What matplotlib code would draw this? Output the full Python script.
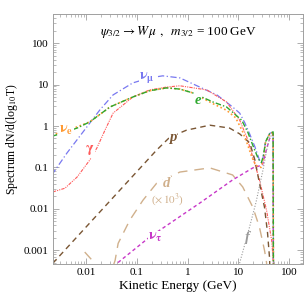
import numpy as np
import matplotlib.pyplot as plt

plt.rcParams['font.family'] = ['Liberation Serif', 'DejaVu Serif']
plt.rcParams['mathtext.fontset'] = 'stix'

# spectra, as log10(T/GeV) and log10(dN/dlogT)
nu_mu_lx = [-2.68, -2.38, -1.93, -1.73, -1.47, -1.08, -0.75, -0.49, -0.15, 0.24, 0.58, 0.89, 1.03,
            1.13, 1.23, 1.33, 1.42, 1.47, 1.50, 1.54, 1.62, 1.69, 1.70]
nu_mu_ly = [-1.18, -0.65, 0.07, 0.39, 0.75, 1.04, 1.16, 1.21, 1.16, 0.94, 0.75, 0.46, 0.31,
            0.08, -0.20, -0.50, -0.82, -0.90, -0.70, -0.38, -0.18, -0.14, -6]

nu_e_lx = [-2.68, -2.2, -1.93, -1.53, -1.08, -0.75, -0.41, -0.15, 0.10, 0.50, 0.77, 0.95, 1.09,
           1.19, 1.27, 1.35, 1.45, 1.50, 1.54, 1.62, 1.69, 1.70]
nu_e_ly = [-0.22, -0.03, 0.10, 0.46, 0.70, 0.85, 0.92, 0.89, 0.80, 0.54, 0.38, 0.20, -0.14,
           -0.46, -0.75, -0.95, -1.00, -0.80, -0.40, -0.20, -0.15, -6]

e_lx = [-2.68, -2.18, -1.93, -1.53, -1.08, -0.75, -0.41, -0.15, 0.10, 0.50, 0.77, 1.07, 1.19,
        1.30, 1.40, 1.46, 1.50, 1.54, 1.62, 1.69, 1.70]
e_ly = [-0.25, -0.05, 0.10, 0.46, 0.70, 0.85, 0.92, 0.89, 0.80, 0.58, 0.46, 0.14, -0.15,
        -0.50, -0.80, -0.88, -0.70, -0.38, -0.19, -0.14, -6]

gamma_lx = [-2.66, -2.42, -2.18, -1.93, -1.79, -1.63, -1.47, -1.08, -0.75, -0.41, -0.15, 0.38, 0.77,
            1.03, 1.17, 1.29, 1.42, 1.56, 1.66, 1.70, 1.71]
gamma_ly = [-1.59, -1.50, -1.23, -0.82, -0.53, -0.10, 0.31, 0.70, 0.87, 0.94, 0.97, 0.87, 0.58,
            0.14, -0.27, -0.75, -1.30, -2.03, -2.75, -3.33, -6]

p_lx = [-2.66, -0.61, -0.35, -0.02, 0.44, 0.83, 1.03, 1.23, 1.33, 1.42, 1.52, 1.58, 1.62, 1.64]
p_ly = [-3.31, -0.58, -0.27, -0.10, 0.02, -0.05, -0.19, -0.41, -0.82, -1.38, -1.96, -2.58, -3.19, -4]

d_lx = [-2.03, -1.83, -1.73, -1.53, -1.43, -1.37, -1.14, -0.88, -0.61, -0.15, 0.44, 0.89,
        1.09, 1.29, 1.42, 1.52, 1.56, 1.58]
d_ly = [-3.04, -3.31, -3.60, -3.60, -3.24, -2.83, -2.27, -1.79, -1.38, -1.11, -1.01, -1.18,
        -1.47, -1.96, -2.44, -3.00, -3.29, -4]

nu_tau_lx = [-1.50, -1.39, -0.75, 0.24, 0.89, 1.29, 1.48, 1.55, 1.62, 1.69, 1.70]
nu_tau_ly = [-3.55, -3.31, -2.68, -1.86, -1.30, -1.01, -0.94, -0.60, -0.30, -0.20, -6]

f_lx = [0.98, 1.03, 1.20, 1.35, 1.49, 1.56, 1.62, 1.69, 1.70]
f_ly = [-3.50, -3.30, -2.55, -1.85, -1.06, -0.60, -0.30, -0.15, -6]

curves = [
    (nu_mu_lx, nu_mu_ly, '#7878f0', (0, (5, 2, 1, 2)), 0.9),
    (gamma_lx, gamma_ly, '#ff5a5a', (0, (3, 1, 1, 1, 1, 1)), 0.8),
    (p_lx, p_ly, '#7a5634', (0, (4, 3)), 1.0),
    (d_lx, d_ly, '#d0b08c', (0, (7, 5)), 1.0),
    (nu_tau_lx, nu_tau_ly, '#c838c8', (0, (2.5, 2)), 1.0),
    (f_lx, f_ly, '#9a9a9a', (0, (1, 1.5)), 0.8),
    (nu_e_lx, nu_e_ly, '#ff9a33', (0, (1, 1.5)), 1.2),
    (e_lx, e_ly, '#2ea82e', (0, (4, 1.5, 1, 1.5)), 1.0),
]

fig = plt.figure(figsize=(3.06, 3.0), dpi=100)
ax = fig.add_axes([0.173, 0.12, 0.817, 0.833])

for lx, ly, col, ls, lw in curves:
    ax.plot(10 ** np.array(lx), 10 ** np.array(ly), color=col, linestyle=ls, lw=lw)

ax.set_xscale('log')
ax.set_yscale('log')
ax.set_xlim(0.0022, 190)
ax.set_ylim(0.00047, 500)

ax.set_xticks([0.01, 0.1, 1, 10, 100])
ax.set_xticklabels(['0.01', '0.1', '1', '10', '100'])
ax.set_yticks([0.001, 0.01, 0.1, 1, 10, 100])
ax.set_yticklabels(['0.001', '0.01', '0.1', '1', '10', '100'])
ax.tick_params(which='both', direction='in', top=True, right=True, color='#a0a0a0',
               labelsize=8, pad=3)
ax.tick_params(which='major', length=4, width=0.6)
ax.tick_params(which='minor', length=2, width=0.5)
for s in ax.spines.values():
    s.set_color('#a0a0a0')
    s.set_linewidth(0.7)

ax.set_xlabel('Kinetic Energy (GeV)', fontsize=9.5, labelpad=2)
ax.set_ylabel(r'Spectrum dN/d(log$_{10}$T)', fontsize=8.5, labelpad=3)

ax.text(0.5, 0.93, r'$\psi_{3/2} \rightarrow W\,\mu\ ,\ \ m_{3/2}$ = 100 GeV',
        transform=ax.transAxes, ha='center', va='center', fontsize=9.5)

box = dict(facecolor='white', edgecolor='none', pad=0.3)
lab = dict(ha='center', va='center', fontsize=10.5, fontweight='bold', style='italic')
ax.text(0.16, 14.5, r'$\mathbf{\nu_\mu}$', color='#7878f0', bbox=box, **lab)
ax.text(0.004, 0.8, r'$\mathbf{\nu_e}$', color='#ff9a33', bbox=box, **lab)
ax.text(1.6, 4.2, 'e', color='#2ea82e', bbox=box, **lab)
ax.text(0.0118, 0.26, r'$\mathbf{\gamma}$', color='#ff5a5a', bbox=box, **lab)
ax.text(0.51, 0.54, 'p', color='#7a5634', bbox=box, **lab)
ax.text(0.39, 0.042, 'd', color='#d0b08c', bbox=box, **lab)
ax.text(0.41, 0.0165, r'($\times\,10^3$)', color='#d0b08c', ha='center', va='center',
        fontsize=8, bbox=box)
ax.text(0.23, 0.002, r'$\mathbf{\nu_\tau}$', color='#c838c8', bbox=box, **lab)
ax.text(15.5, 0.002, 'f', color='#9a9a9a', bbox=box, **lab)

fig.savefig('out.png', dpi=100)
